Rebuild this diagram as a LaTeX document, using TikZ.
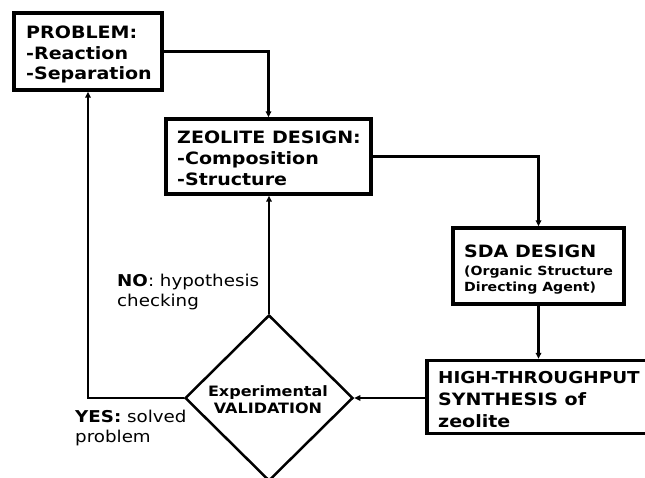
\documentclass[tikz,border=0pt]{standalone}
\usepackage{fontspec}
\setmainfont{DejaVu Sans}[FakeStretch=1.12]
\usetikzlibrary{shapes.geometric,arrows.meta}
\begin{document}
\begin{tikzpicture}[x=1pt,y=-1pt,
  box/.style={draw,line width=3.4pt,inner sep=0pt,rectangle},
  txt/.style={anchor=base west,inner sep=0pt,font=\bfseries\fontsize{17}{20}\selectfont},
  small/.style={anchor=base west,inner sep=0pt,font=\bfseries\fontsize{12.6}{15}\selectfont},
  dtxt/.style={anchor=base,inner sep=0pt,font=\bfseries\fontsize{14.3}{15}\selectfont},
  lbl/.style={anchor=base west,inner sep=0pt,font=\fontsize{16.3}{20}\selectfont},
  conn/.style={line width=2.2pt},
  arr/.style={conn,-{Triangle[length=6pt,width=5.5pt]}}]
\clip (0,0) rectangle (645,477);
\fill[white] (0,0) rectangle (645,477);
% boxes
\node[box,minimum width=148,minimum height=77] (prob) at (88,51.5) {};
\node[box,minimum width=205,minimum height=75] (zeo) at (268.5,156.5) {};
\node[box,minimum width=171,minimum height=76] (sda) at (538.5,266) {};
\node[box,minimum width=222,minimum height=73] (ht) at (538,397) {};
\node[draw,diamond,line width=2.5pt,minimum width=168,minimum height=166,inner sep=0pt] (dia) at (269,398) {};
% texts
\node[txt] (p1) at (26,38) {PROBLEM:};
\node[txt] (p2) at (26,59) {-Reaction};
\node[txt] (p3) at (26,79) {-Separation};
\node[txt] (z1) at (177,143) {ZEOLITE DESIGN:};
\node[txt] (z2) at (177,164) {-Composition};
\node[txt] (z3) at (177,185) {-Structure};
\node[txt] (s1) at (464,257) {SDA DESIGN};
\node[small] (s2) at (464,275) {(Organic Structure};
\node[small] (s3) at (464,291) {Directing Agent)};
\node[txt,font=\bfseries\fontsize{16.4}{20}\selectfont] (h1) at (438,383) {HIGH-THROUGHPUT};
\node[txt] (h2) at (438,405) {SYNTHESIS of};
\node[txt] (h3) at (438,427) {zeolite};
\node[dtxt] (d1) at (268,396) {Experimental};
\node[dtxt] (d2) at (268,413) {VALIDATION};
\node[lbl] (n1) at (117,286) {\textbf{NO}: hypothesis};
\node[lbl] (n2) at (117,306) {checking};
\node[lbl] (y1) at (75,422) {\textbf{YES:} solved};
\node[lbl] (y2) at (75,442) {problem};
% connectors
\coordinate (cl) at (88,398);
\draw[arr] (prob.east) -| (zeo.north);
\draw[arr] (zeo.east) -| (sda.north);
\draw[arr] (sda.south) -- (sda.south |- ht.north);
\draw[arr] (ht.west |- dia.east) -- (dia.east);
\draw[arr] (dia.north) -- (dia.north |- zeo.south);
\draw[arr] (dia.west) -- (cl) -- (prob.south);
\end{tikzpicture}
\end{document}
